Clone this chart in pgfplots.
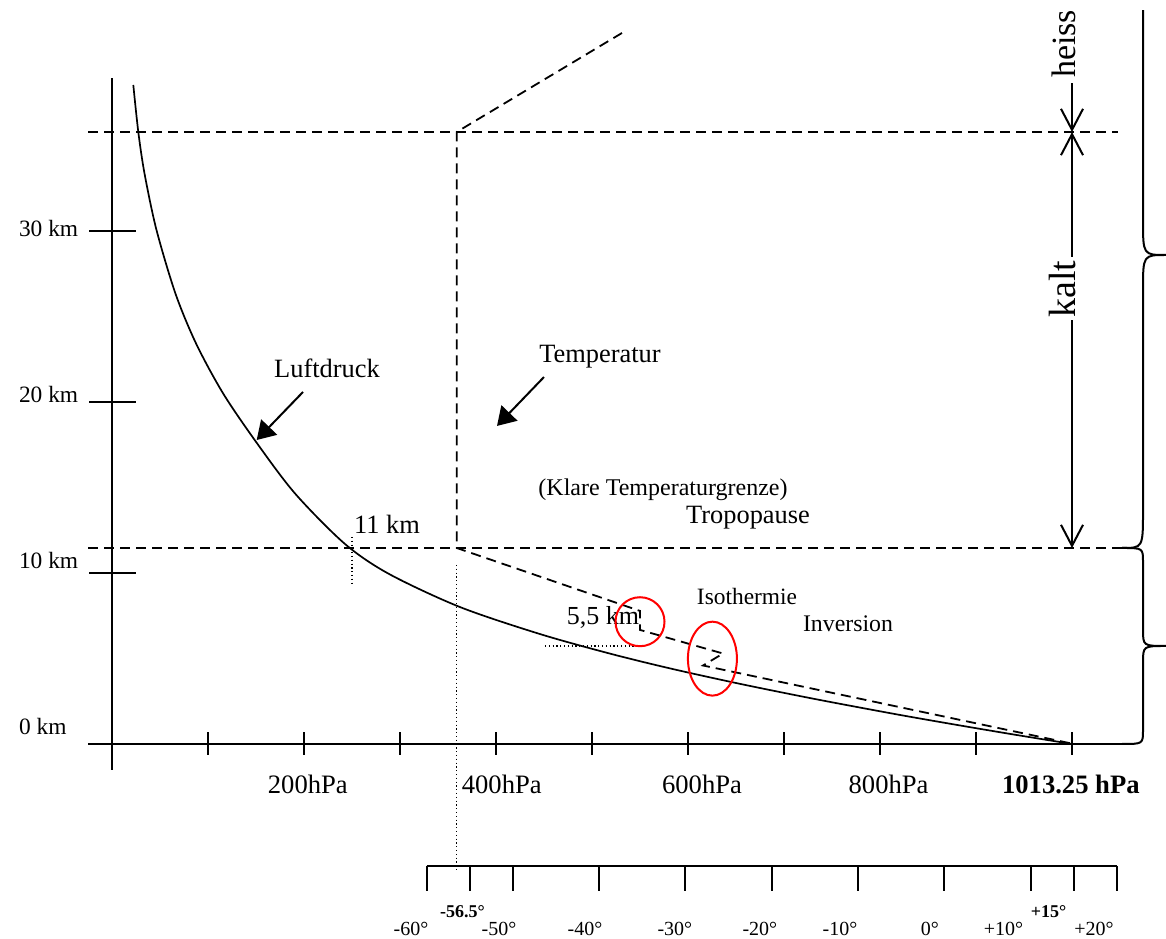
\documentclass[border=0pt]{standalone}
\usepackage{fontspec}
\setmainfont{Liberation Serif}
\usepackage{pgfplots}
\pgfplotsset{compat=1.18}
\usetikzlibrary{arrows.meta}

\newcommand\fs[1]{\fontsize{#1}{#1}\selectfont}

\tikzset{
  dsh/.style={black, line width=0.9pt, dash pattern=on 5pt off 3pt},
  dts/.style={black, line width=0.6pt, dash pattern=on 0.6pt off 1.3pt},
  thk/.style={black, line width=1pt},
}
\pgfplotsset{
  sketch/.style={width=583pt, height=469.5pt, scale only axis, hide axis,
    clip=false, ymin=-11.404, ymax=43.509},
}

\begin{document}
\begin{tikzpicture}
% x: pressure in hPa, y: height in km
\begin{axis}[sketch, xmin=-116.667, xmax=1097.917]
\coordinate (sw) at (rel axis cs:0,0);
\coordinate (ne) at (rel axis cs:1,1);

% height axis
\addplot[thk] coordinates {(0,-1.52) (0,38.95)};
\addplot[thk, only marks, mark=-, mark size=11.75pt, mark options={line width=1pt}]
  coordinates {(0,10) (0,20) (0,30)};
\node[anchor=base west, font=\fs{11.7}] at (axis cs:-104.2,29.67) {30 km};
\node[anchor=base west, font=\fs{11.7}] at (axis cs:-104.2,19.97) {20 km};
\node[anchor=base west, font=\fs{11.7}] at (axis cs:-104.2,10.27) {10 km};
\node[anchor=base west, font=\fs{11.7}] at (axis cs:-104.2,0.57) {0 km};

% pressure axis
\addplot[thk] coordinates {(-25,0) (1052.08,0)};
\addplot[thk, only marks, mark=|, mark size=5.75pt, mark options={line width=1pt}]
  coordinates {(100,0) (200,0) (300,0) (400,0) (500,0) (600,0) (700,0) (800,0) (900,0) (1000,0)};
\node[anchor=base, font=\fs{13.3}] at (axis cs:204,-2.88) {200hPa};
\node[anchor=base, font=\fs{13.3}] at (axis cs:406,-2.88) {400hPa};
\node[anchor=base, font=\fs{13.3}] at (axis cs:614.6,-2.88) {600hPa};
\node[anchor=base, font=\fs{13.3}] at (axis cs:808.9,-2.88) {800hPa};
\node[anchor=base, font=\fs{13.3}\bfseries] at (axis cs:998.8,-2.88) {1013.25 hPa};

% air pressure against height
\addplot[black, line width=0.85pt, smooth] coordinates {
  (1000,0) (935.9,0.585) (874.4,1.170) (815.3,1.754) (732.0,2.632)
  (654.8,3.509) (583.9,4.386) (520.2,5.263) (445.6,6.433) (362.3,8.012)
  (288.6,9.942) (242.7,11.696) (191.1,14.620) (151.6,17.544) (116.1,20.468)
  (87.8,23.392) (66.25,26.316) (46.35,30.058) (33.96,33.333) (27.40,35.789)
  (22.19,38.538)};

% levels
\addplot[dsh] coordinates {(-25,35.789) (1047.9,35.789)};
\addplot[dsh] coordinates {(-25,11.462) (1052.08,11.462)};
\addplot[dts] coordinates {(250,12.11) (250,9.24)};
\addplot[dts] coordinates {(451,5.73) (544.8,5.73)};

% heiss / kalt
\draw[thk, -{Straight Barb[length=10.5pt,width=11pt]}]
  (axis cs:1000,38.65) -- (axis cs:1000,35.789);
\draw[thk, {Straight Barb[length=10.5pt,width=11pt]}-{Straight Barb[length=10.5pt,width=11pt]}]
  (axis cs:1000,35.789) -- (axis cs:1000,11.462);
\node[rotate=90, fill=white, inner sep=1.5pt, font=\fs{19}] at (axis cs:990.6,26.61) {kalt};
\node[rotate=90, font=\fs{17}] at (axis cs:991.7,40.94) {heiss};

% braces
\draw[thk] (axis cs:1052.08,0) .. controls (axis cs:1073.96,0) .. (axis cs:1073.96,0.82)
  -- (axis cs:1073.96,4.74) .. controls (axis cs:1073.96,5.731) .. (axis cs:1097.92,5.731)
  .. controls (axis cs:1073.96,5.731) .. (axis cs:1073.96,6.72)
  -- (axis cs:1073.96,10.64) .. controls (axis cs:1073.96,11.462) .. (axis cs:1052.08,11.462);
\draw[thk] (axis cs:1052.08,11.462) .. controls (axis cs:1073.96,11.462) .. (axis cs:1073.96,13.68)
  -- (axis cs:1073.96,26.55) .. controls (axis cs:1073.96,28.596) .. (axis cs:1097.92,28.596)
  .. controls (axis cs:1073.96,28.596) .. (axis cs:1073.96,30.64)
  -- (axis cs:1073.96,42.92);

% pointers
\draw[thk, -{Triangle[length=9pt,width=11pt]}] (axis cs:198.96,20.585) -- (axis cs:150.73,17.778);
\draw[thk, -{Triangle[length=9pt,width=11pt]}] (axis cs:450,21.46) -- (axis cs:401.04,18.60);

% labels
\node[anchor=base, font=\fs{13.2}] at (axis cs:223.96,21.46) {Luftdruck};
\node[anchor=base, font=\fs{13.2}] at (axis cs:508.33,22.32) {Temperatur};
\node[anchor=base, font=\fs{12}] at (axis cs:573.96,14.56) {(Klare Temperaturgrenze)};
\node[anchor=base, font=\fs{13.2}] at (axis cs:662.5,12.91) {Tropopause};
\node[anchor=base, font=\fs{13.2}] at (axis cs:286.46,12.32) {11 km};
\node[anchor=base, font=\fs{13}] at (axis cs:511.46,6.96) {5,5 km};
\node[anchor=base, font=\fs{11.7}] at (axis cs:661.46,8.13) {Isothermie};
\node[anchor=base, font=\fs{11.9}] at (axis cs:766.67,6.57) {Inversion};
\end{axis}

% x: temperature in degrees Celsius, y: height in km
\begin{axis}[sketch, xmin=-109.42, xmax=25.69]
% temperature scale
\addplot[thk] coordinates {(-60,-7.135) (20,-7.135)};
\addplot[thk, unbounded coords=jump] coordinates {
  (-60,-7.135) (-60,-8.596) (nan,nan)
  (-55,-7.135) (-55,-8.596) (nan,nan)
  (-50,-7.135) (-50,-8.596) (nan,nan)
  (-40,-7.135) (-40,-8.596) (nan,nan)
  (-30,-7.135) (-30,-8.596) (nan,nan)
  (-20,-7.135) (-20,-8.596) (nan,nan)
  (-10,-7.135) (-10,-8.596) (nan,nan)
  (0,-7.135) (0,-8.596) (nan,nan)
  (10,-7.135) (10,-8.596) (nan,nan)
  (15,-7.135) (15,-8.596) (nan,nan)
  (20,-7.135) (20,-8.596)};
\node[anchor=base, font=\fs{10}] at (axis cs:-61.80,-11.2) {-60°};
\node[anchor=base, font=\fs{10}] at (axis cs:-51.60,-11.2) {-50°};
\node[anchor=base, font=\fs{10}] at (axis cs:-41.63,-11.2) {-40°};
\node[anchor=base, font=\fs{10}] at (axis cs:-31.22,-11.2) {-30°};
\node[anchor=base, font=\fs{10}] at (axis cs:-21.37,-11.2) {-20°};
\node[anchor=base, font=\fs{10}] at (axis cs:-12.09,-11.2) {-10°};
\node[anchor=base, font=\fs{10}] at (axis cs:-1.66,-11.2) {0°};
\node[anchor=base, font=\fs{10}] at (axis cs:6.86,-11.2) {+10°};
\node[anchor=base, font=\fs{10}] at (axis cs:17.35,-11.2) {+20°};
\node[anchor=base, font=\fs{9}\bfseries] at (axis cs:-55.83,-10.12) {-56.5°};
\node[anchor=base, font=\fs{9}\bfseries] at (axis cs:12.07,-10.12) {+15°};

% temperature profile
\addplot[dsh] coordinates {
  (-37.35,41.58) (-56.5,35.789) (-56.5,11.462) (-35.26,7.78) (-35.26,6.67)
  (-25.64,5.29) (-27.96,4.59) (15,0)};
\addplot[dts] coordinates {(-56.5,10.47) (-56.5,-7.43)};

% isothermal layer and inversion
\addplot[red, only marks, mark=o, mark size=12.25pt, mark options={line width=1pt}]
  coordinates {(-35.26,7.15)};
\addplot[red, only marks, mark=o, mark size=12.25pt, mark options={line width=1pt, yscale=1.51}]
  coordinates {(-26.87,4.99)};
\end{axis}
\pgfresetboundingbox
\path (sw) rectangle (ne);
\end{tikzpicture}
\end{document}
